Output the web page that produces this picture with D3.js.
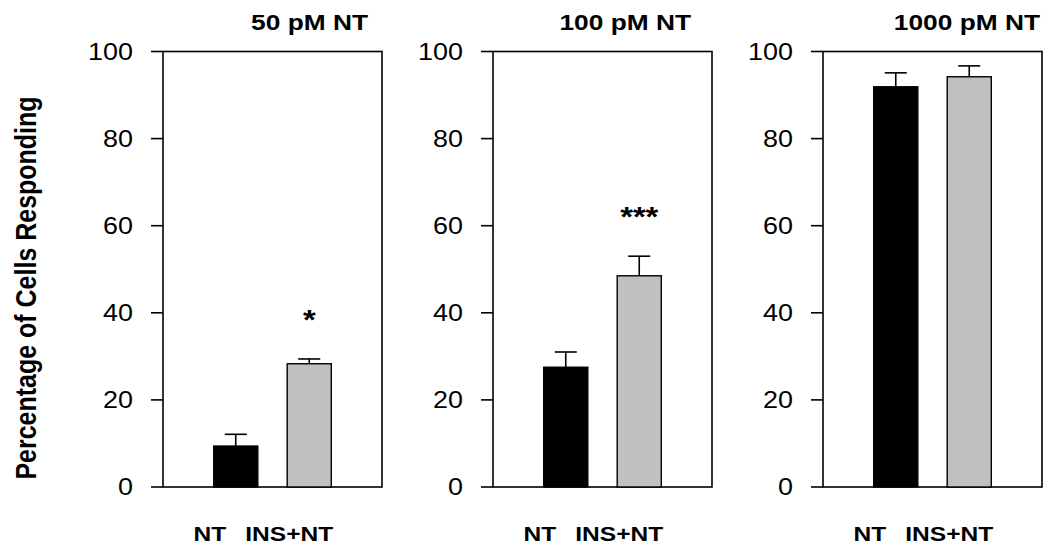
<!DOCTYPE html>
<html><head><meta charset="utf-8">
<script src="https://cdn.jsdelivr.net/npm/d3@7"></script>
<style>html,body{margin:0;padding:0;background:#fff;}svg{display:block;}text{font-family:"Liberation Sans",Arial,sans-serif;fill:#000;}</style>
</head><body>
<svg id="c" width="1050" height="558"></svg>
<script>
// ---- data ----
const panelTitles = ["50 pM NT", "100 pM NT", "1000 pM NT"];
const categories = ["NT", "INS+NT"];
const ntValues = [9.4, 27.5, 91.9];
const ntErrors = [2.7, 3.5, 3.2];
const insValues = [28.3, 48.5, 94.2];
const insErrors = [1.1, 4.5, 2.5];
const significance = ["*", "***", ""];
const yTicks = [0, 20, 40, 60, 80, 100];
const yTitle = "Percentage of Cells Responding";

// ---- layout ----
const svg = d3.select("#c");
const plotTop = 51.5, plotBottom = 487;
const panelLefts = [163, 493, 823];
const panelWidth = 219;
const titleRight = [368, 691, 1040];
const SX = 1.17; // horizontal text stretch
const colors = {"NT": "#000000", "INS+NT": "#c0c0c0"};

const y = d3.scaleLinear().domain([0, 100]).range([plotBottom, plotTop]);
const x = d3.scaleBand().domain(categories).range([0, panelWidth]).paddingInner(0.4).paddingOuter(0.69);

function stretchedText(g, tx, ty, str, opts) {
  return g.append("g").attr("transform", `translate(${tx},${ty}) scale(${SX},1)` + (opts.rotate ? ` rotate(${opts.rotate})` : ""))
    .append("text").text(str)
    .attr("font-size", opts.size).attr("font-weight", opts.weight || "normal")
    .attr("text-anchor", opts.anchor || "middle");
}

panelTitles.forEach((title, i) => {
  const g = svg.append("g").attr("transform", `translate(${panelLefts[i]},0)`);
  const rows = categories.map((c, j) => ({
    cat: c,
    value: j === 0 ? ntValues[i] : insValues[i],
    err: j === 0 ? ntErrors[i] : insErrors[i]
  }));

  g.append("rect").attr("x", 0).attr("y", plotTop).attr("width", panelWidth).attr("height", plotBottom - plotTop)
    .attr("fill", "none").attr("stroke", "#000").attr("stroke-width", 1.6);

  g.selectAll("line.tick").data(yTicks).enter().append("line")
    .attr("x1", -12).attr("x2", 0).attr("y1", d => y(d)).attr("y2", d => y(d))
    .attr("stroke", "#000").attr("stroke-width", 1.6);
  yTicks.forEach(t => stretchedText(g, -30, y(t) + 8.3, String(t), {size: 23, anchor: "end"}));

  rows.forEach(r => {
    const cx = x(r.cat) + x.bandwidth() / 2;
    g.append("line").attr("x1", cx).attr("x2", cx).attr("y1", y(r.value)).attr("y2", y(r.value + r.err))
      .attr("stroke", "#000").attr("stroke-width", 1.6);
    g.append("line").attr("x1", cx - x.bandwidth() / 4).attr("x2", cx + x.bandwidth() / 4)
      .attr("y1", y(r.value + r.err)).attr("y2", y(r.value + r.err))
      .attr("stroke", "#000").attr("stroke-width", 1.6);
  });

  g.selectAll("rect.bar").data(rows).enter().append("rect")
    .attr("x", d => x(d.cat)).attr("width", x.bandwidth())
    .attr("y", d => y(d.value)).attr("height", d => plotBottom - y(d.value))
    .attr("fill", d => colors[d.cat]).attr("stroke", "#000").attr("stroke-width", 1.4);

  if (significance[i]) {
    const r = rows[1];
    stretchedText(g, x(r.cat) + x.bandwidth() / 2, y(r.value + r.err) - 30, significance[i], {size: 28, weight: "bold"});
  }

  const labelOffsets = [-26, -20];
  rows.forEach((r, j) => {
    stretchedText(g, x(r.cat) + x.bandwidth() / 2 + labelOffsets[j], 541, r.cat, {size: 21, weight: "bold"});
  });

  stretchedText(svg, titleRight[i], 30, title, {size: 22.5, weight: "bold", anchor: "end"});
});

stretchedText(svg, 36, 288, yTitle, {size: 25, weight: "bold", rotate: -90});
</script>
</body></html>
